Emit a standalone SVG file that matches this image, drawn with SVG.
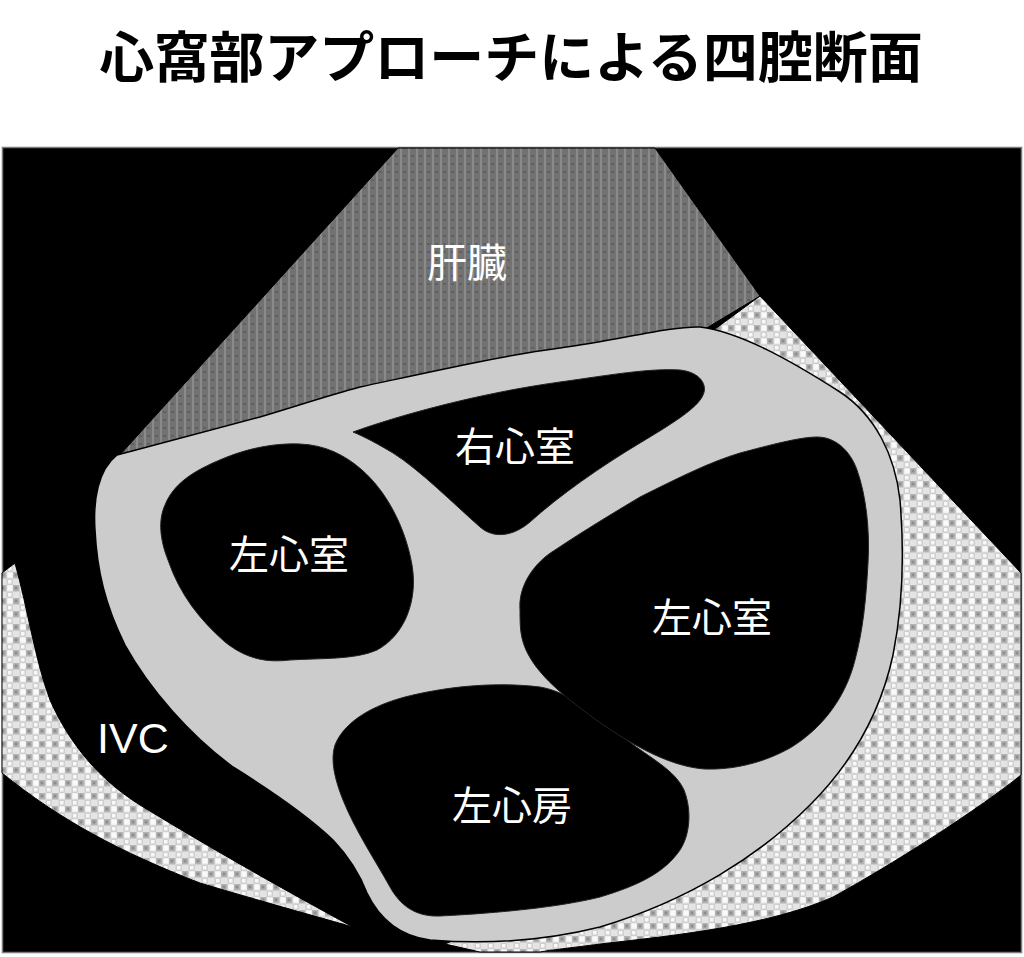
<svg xmlns="http://www.w3.org/2000/svg" width="1024" height="957" viewBox="0 0 1024 957">
<defs>
<pattern id="liverPat" width="8" height="8" patternUnits="userSpaceOnUse">
<rect width="8" height="8" fill="#727272"/>
<rect x="0" y="0" width="2" height="8" fill="#8a8a8a"/>
<rect x="3" y="3" width="3" height="2" fill="#616161"/>
</pattern>
<pattern id="checkPat" width="13" height="13" patternUnits="userSpaceOnUse">
<rect width="13" height="13" fill="#e4e4e4"/>
<rect x="0" y="0" width="6.5" height="6.5" fill="#b4b4b4"/>
<rect x="6.5" y="6.5" width="6.5" height="6.5" fill="#cfcfcf"/>
<rect x="1.5" y="1.5" width="3" height="3" fill="#8e8e8e"/>
<rect x="8" y="8" width="3.5" height="3.5" fill="#f8f8f8"/>
<rect x="7.5" y="0.5" width="5" height="5" fill="#fafafa"/>
</pattern>
<style>
.title{font-family:"Noto Sans CJK JP","Noto Sans",sans-serif;font-weight:bold;font-size:55px;fill:#000;text-anchor:middle}
.lbl{font-family:"Noto Sans CJK JP","Noto Sans",sans-serif;font-size:40px;fill:#fff;text-anchor:middle}
.lat{font-family:"Liberation Sans",Arial,sans-serif;font-size:43px;fill:#fff}
.chamber{fill:#000;stroke:#222;stroke-width:1}
.wall{fill:#cccccc;stroke:#000;stroke-width:1.5}
</style>
</defs>
<rect width="1024" height="957" fill="#ffffff"/>
<text class="title" x="511" y="77">心窩部アプローチによる四腔断面</text>
<g id="frame">
<rect x="2.5" y="147.5" width="1019" height="805" fill="#000" stroke="#7a7a7a" stroke-width="1.5"/>
</g>
<g id="checker-right">
<path d="M760,296 L1021,573 L1021,775 C980,808 900,860 833,897 C770,925 680,935 600,944 C570,948 550,950 540,952 L480,952 L445,944 L600,880 L800,700 L850,450 L700,340 Z" fill="url(#checkPat)" stroke="#000" stroke-width="1"/>
</g>
<g id="checker-left">
<path d="M15,563 C28,610 35,660 50,700 C70,745 100,780 140,805 C210,848 290,893 353,927 C300,912 250,898 200,883 C120,852 60,820 2,773 L2,573 Z" fill="url(#checkPat)" stroke="#000" stroke-width="1"/>
</g>
<g id="liver">
<path d="M398,148 L655,148 L760,296 L700,332 L118,457 Z" fill="url(#liverPat)" stroke="#000" stroke-width="1"/>
<text class="lbl" x="467" y="277">肝臓</text>
</g>
<g id="heart">
<path class="wall" d="M117,455 C170,441 225,426 260,417 C300,405 330,395 360,387 C430,372 500,356 560,348 C620,340 670,326 700,327 C740,332 790,360 840,392 C875,415 895,455 900,500 C905,560 902,610 893,655 C880,715 850,765 810,805 C760,855 690,900 600,927 C540,942 480,944 430,940 C400,936 380,920 367,893 C360,875 350,858 333,840 C310,818 270,790 233,767 C190,735 150,690 125,645 C105,605 97,570 95,530 C93,500 98,470 117,455 Z"/>
</g>
<g id="left-ventricle-1">
<path class="chamber" d="M165,505 C175,480 200,468 227,457 C250,448 275,443 300,444 C325,445 345,455 362,470 C385,490 405,525 412,565 C418,600 405,635 377,650 C355,660 320,658 290,660 C265,663 245,658 225,642 C200,620 180,595 168,560 C160,540 158,520 165,505 Z"/>
<text class="lbl" x="289" y="569">左心室</text>
</g>
<g id="right-ventricle">
<path class="chamber" d="M353,432 C400,415 480,393 560,382 C610,375 650,368 680,370 C700,372 708,385 703,395 C698,408 670,425 640,443 C600,467 560,495 530,522 C515,535 495,540 480,527 C455,505 420,470 393,453 C378,444 365,437 353,432 Z"/>
<text class="lbl" x="515" y="461">右心室</text>
</g>
<g id="left-atrium">
<path class="chamber" d="M335,745 C345,720 375,705 405,697 C440,688 490,681 540,687 C570,692 600,717 627,740 C650,758 675,770 684,790 C692,810 690,835 680,850 C665,872 640,885 600,897 C560,907 500,913 440,916 C415,917 400,905 390,887 C375,860 355,830 343,800 C335,780 330,760 335,745 Z"/>
<text class="lbl" x="512" y="820">左心房</text>
</g>
<g id="left-ventricle-2">
<path class="chamber" d="M520,610 C518,585 535,562 555,550 C585,530 610,515 640,497 C680,477 710,462 740,453 C770,445 800,437 817,437 C835,437 850,450 857,470 C866,495 870,530 868,563 C866,600 863,630 855,660 C845,700 820,730 790,748 C765,762 735,770 705,769 C690,768 665,763 627,740 C605,727 585,712 570,700 C545,680 527,660 522,638 C520,630 520,620 520,610 Z"/>
<text class="lbl" x="712" y="632">左心室</text>
</g>
<g id="ivc">
<text class="lat" x="97" y="753">IVC</text>
</g>
</svg>
